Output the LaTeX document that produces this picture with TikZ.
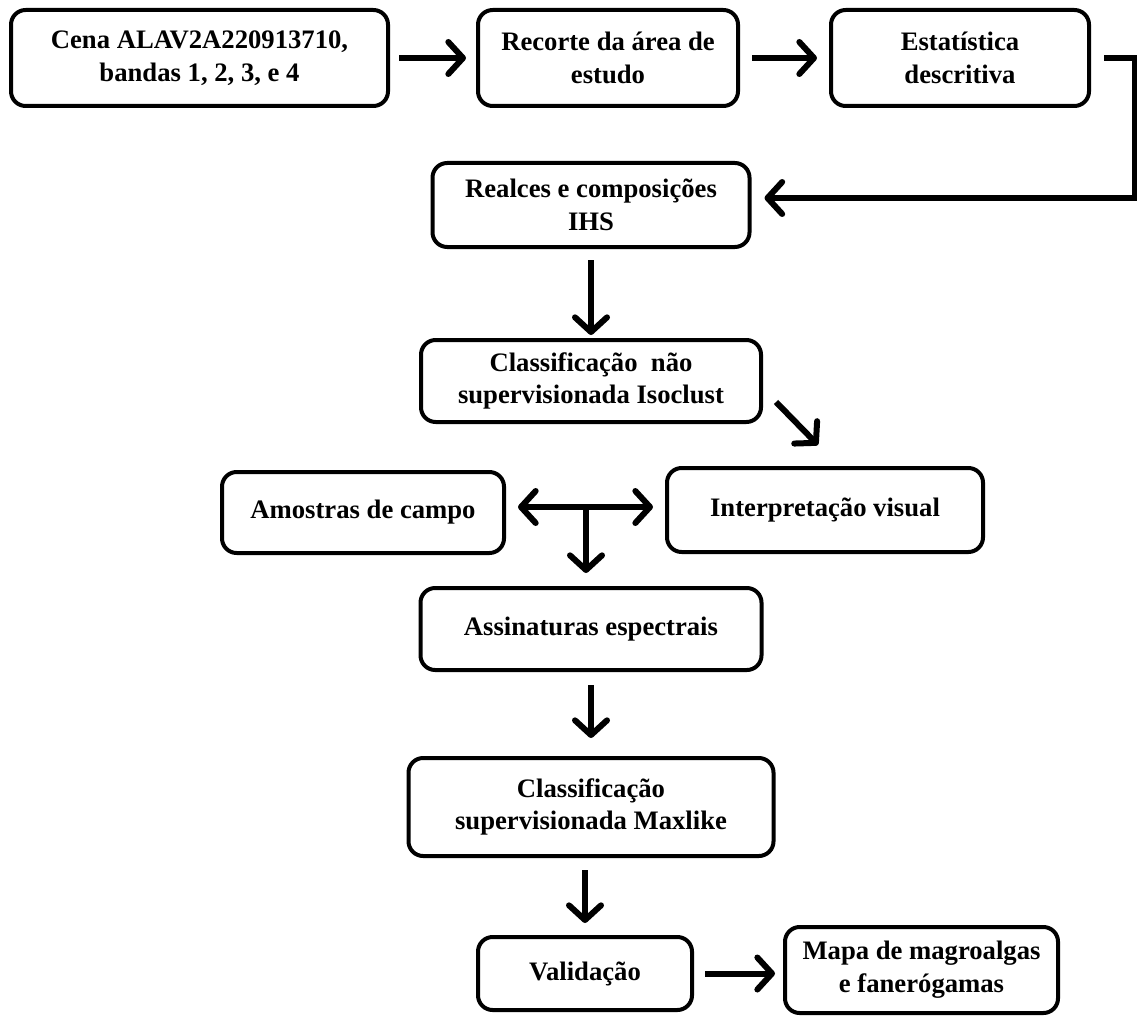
\documentclass[tikz,border=0pt]{standalone}
\usepackage{fontspec}
\setmainfont{Liberation Serif}
\usetikzlibrary{arrows.meta,calc}
\tikzset{
  box/.style={draw=black, line width=3pt, rounded corners=11pt, align=center,
    inner sep=0pt, font=\fontsize{20}{24.5}\selectfont\bfseries},
  tipb/.tip={Straight Barb[length=11pt,width=24pt,round]},
  arr/.style={draw=black, line width=4.5pt, -tipb},
  dbl/.style={draw=black, line width=4.5pt, tipb-tipb},
  link/.style={draw=black, line width=4.5pt}
}
\begin{document}
\begin{tikzpicture}[x=0.75pt,y=-0.75pt]
\useasboundingbox (0,0) rectangle (1137,1016);
\node[box, minimum width=377*0.75pt, minimum height=96*0.75pt] (cena) at (199.5,58) {Cena ALAV2A220913710,\\bandas 1, 2, 3, e 4};
\node[box, minimum width=260*0.75pt, minimum height=96*0.75pt] (recorte) at (608,58) {Recorte da área de\\estudo};
\node[box, minimum width=258*0.75pt, minimum height=96*0.75pt] (est) at (960,58) {Estatística\\descritiva};
\node[box, minimum width=317*0.75pt, minimum height=84*0.75pt] (realces) at (591,205) {Realces e composições\\IHS};
\node[box, minimum width=340*0.75pt, minimum height=82*0.75pt] (classns) at (591,381) {Classificação~ não\\supervisionada Isoclust};
\node[box, minimum width=282*0.75pt, minimum height=81*0.75pt] (amostras) at (363,512.5) {Amostras de campo};
\node[box, minimum width=316*0.75pt, minimum height=84*0.75pt] (interp) at (825,510) {Interpretação visual};
\node[box, minimum width=341*0.75pt, minimum height=82*0.75pt] (assin) at (591,629) {Assinaturas espectrais};
\node[box, minimum width=365*0.75pt, minimum height=98*0.75pt] (maxlike) at (591,807) {Classificação\\supervisionada Maxlike};
\node[box, minimum width=214*0.75pt, minimum height=73*0.75pt] (valid) at (585,973.5) {Validação};
\node[box, minimum width=273*0.75pt, minimum height=86*0.75pt] (mapa) at (921.5,970) {Mapa de magroalgas\\e fanerógamas};

\coordinate (c1) at (1135,58);
\coordinate (c2) at (1135,198);
\coordinate (tj) at (586,507);

\draw[arr] ($(cena.east)+(9,0)$) -- ($(recorte.west)+(-10,0)$);
\draw[arr] ($(recorte.east)+(12,0)$) -- ($(est.west)+(-12,0)$);
\draw[arr] ($(est.east)+(13,0)$) -- (c1) -- (c2) -- ($(realces.east |- c2)+(13,0)$);
\draw[arr] ($(realces.south)+(0,11)$) -- ($(classns.north)+(0,-3)$);
\draw[arr] ($(classns.south east)+(13,-22)$) -- ($(interp.north)+(-7,-21)$);
\draw[dbl] ($(amostras.east |- tj)+(12,0)$) -- ($(interp.west |- tj)+(-12,0)$);
\draw[arr] (tj) -- ($(assin.north -| tj)+(0,-13)$);
\draw[arr] ($(assin.south)+(0,13)$) -- ($(maxlike.north)+(0,-18)$);
\draw[arr] ($(maxlike.south -| valid.north)+(0,12)$) -- ($(valid.north)+(0,-12)$);
\draw[arr] ($(valid.east)+(11,0)$) -- ($(mapa.west |- valid.east)+(-8,0)$);
\end{tikzpicture}
\end{document}
